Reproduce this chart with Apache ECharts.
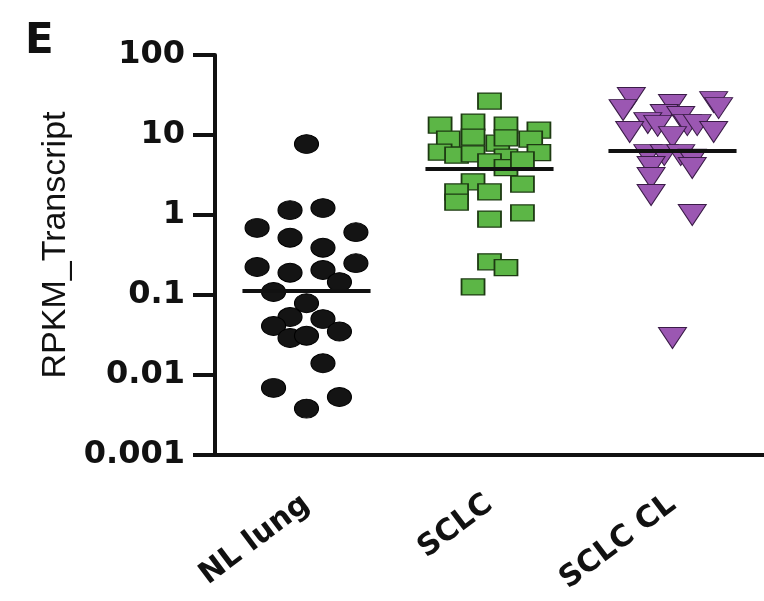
<!DOCTYPE html>
<html>
<head>
<meta charset="utf-8">
<script src="https://cdn.jsdelivr.net/npm/echarts@6/dist/echarts.min.js"></script>
<style>
  html, body { margin: 0; padding: 0; background: #fff; }
  #chart { width: 764px; height: 601px; }
</style>
</head>
<body>
<div id="chart"></div>
<script>
// groups on the x axis
var categories = ['NL lung', 'SCLC', 'SCLC CL'];
var yTicks = [0.001, 0.01, 0.1, 1, 10, 100];

// RPKM values, with the column slot each dot sits in
var nlLungVals = [7.7, 1.15, 1.22, 0.69, 0.61, 0.52, 0.39, 0.224, 0.25, 0.19, 0.205, 0.145,
  0.109, 0.079, 0.053, 0.041, 0.05, 0.035, 0.029, 0.031, 0.014, 0.0069, 0.0053, 0.0038];
var nlLungSlot = [0, -1, 1, -3, 3, -1, 1, -3, 3, -1, 1, 2,
  -2, 0, -1, -2, 1, 2, -1, 0, 1, -2, 2, 0];

var sclcVals = [26.6, 13.3, 14.5, 13.3, 11.5, 8.9, 9.4, 7.9, 9.2, 8.9, 6.1, 5.6, 5.8, 5.3,
  6.0, 4.6, 3.9, 4.9, 2.6, 1.94, 1.94, 2.44, 1.45, 0.89, 1.06, 0.26, 0.22, 0.126];
var sclcSlot = [0, -3, -1, 1, 3, -2.5, -1, 0.5, 1, 2.5, -3, -2, -1, 1,
  3, 0, 1, 2, -1, -2, 0, 2, -2, 0, 2, 0, 1, -1];

var sclcClVals = [29, 23.7, 25.8, 20.5, 21.7, 17.8, 16.8, 14.1, 13.0, 13.3, 13.3, 10.9,
  10.9, 9.4, 5.6, 5.6, 5.6, 4.9, 3.98, 3.87, 2.9, 1.78, 1.0, 0.029];
var sclcClSlot = [-2.5, 0, 2.5, -3, 2.8, -0.5, 0.5, -1.5, -0.9, 0.9, 1.5, -2.6,
  2.5, 0, -1.5, -0.5, 0.5, 1.2, -1.3, 1.2, -1.3, -1.3, 1.2, 0];

var medians = [0.112, 3.76, 6.3];

var SLOT = 0.09;      // one jitter column, in category units
var HALF = 0.35;      // half width of the median bar

function pts(idx, vals, slots) {
  return vals.map(function (v, i) { return [idx + slots[i] * SLOT, v]; });
}

var font = '"Liberation Sans", Arial, sans-serif';
var wide = '"DejaVu Sans", sans-serif';

var medianSeries = medians.map(function (m, i) {
  return {
    type: 'line',
    xAxisIndex: 1,
    data: [[i - HALF, m], [i + HALF, m]],
    symbol: 'none',
    lineStyle: { color: '#111', width: 4 },
    z: 10,
    silent: true
  };
});

var chart = echarts.init(document.getElementById('chart'));
chart.setOption({
  animation: false,
  backgroundColor: '#fff',
  title: {
    text: 'E', left: 20, top: 16,
    textStyle: { fontFamily: wide, fontSize: 42, fontWeight: 'bold', color: '#111' }
  },
  grid: { left: 215, top: 55, width: 564, height: 400 },
  xAxis: [{
    type: 'category',
    data: categories,
    axisLine: { lineStyle: { color: '#111', width: 4 } },
    axisTick: { alignWithLabel: true, length: 14, lineStyle: { color: '#111', width: 4 } },
    axisLabel: {
      rotate: 37, margin: 46, color: '#111',
      fontFamily: wide, fontSize: 30, fontWeight: 'bold'
    },
    splitLine: { show: false }
  }, {
    type: 'value', min: -0.5, max: 2.5, show: false
  }],
  yAxis: {
    type: 'log', logBase: 10, min: yTicks[0], max: yTicks[yTicks.length - 1],
    name: 'RPKM_Transcript', nameLocation: 'middle', nameGap: 140,
    nameTextStyle: { fontFamily: font, fontSize: 34, color: '#111', padding: [0, 0, 0, 20] },
    axisLine: { show: true, onZero: false, lineStyle: { color: '#111', width: 4 } },
    axisTick: { show: true, length: 22, lineStyle: { color: '#111', width: 4 } },
    axisLabel: {
      margin: 30, color: '#111', fontFamily: wide, fontSize: 32, fontWeight: 'bold',
      formatter: function (v) { return String(+v.toPrecision(3)); }
    },
    minorTick: { show: false },
    splitLine: { show: false }
  },
  series: [{
    type: 'scatter', xAxisIndex: 1,
    data: pts(0, nlLungVals, nlLungSlot),
    symbol: 'circle', symbolSize: [24, 19],
    itemStyle: { color: '#141414', borderColor: '#000', borderWidth: 1, opacity: 1 }
  }, {
    type: 'scatter', xAxisIndex: 1,
    data: pts(1, sclcVals, sclcSlot),
    symbol: 'rect', symbolSize: [23, 16],
    itemStyle: { color: '#5cb646', borderColor: '#1d3a12', borderWidth: 1.5, opacity: 1 }
  }, {
    type: 'scatter', xAxisIndex: 1,
    data: pts(2, sclcClVals, sclcClSlot),
    symbol: 'triangle', symbolRotate: 180, symbolSize: [28, 21],
    itemStyle: { color: '#9b57b2', borderColor: '#3a1c47', borderWidth: 1, opacity: 1 }
  }].concat(medianSeries)
});
</script>
</body>
</html>
